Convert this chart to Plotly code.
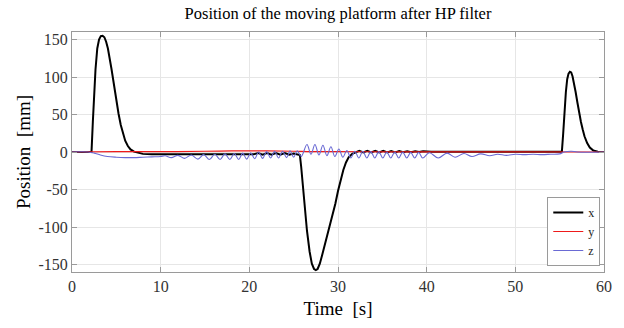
import plotly.graph_objects as go

# ---- data ----
x_t = [0, 2.2, 2.35, 2.5, 2.65, 2.85, 3.05, 3.25, 3.45, 3.65, 3.85, 4.05, 4.25, 4.45, 4.65, 4.85, 5.05, 5.25, 5.5, 5.75, 6.0, 6.3,
       6.6, 7.0, 7.5, 8, 9, 10, 11, 12, 13, 14, 15, 16, 17, 18, 19, 20,
       20.5, 21, 21.5, 22, 22.5, 23, 23.5, 24, 24.5, 25, 25.5, 25.7, 25.85, 26.0, 26.2, 26.5, 26.8, 27.05, 27.3, 27.5, 27.7, 27.95,
       28.2, 28.5, 28.8, 29.1, 29.4, 29.7, 30.0, 30.3, 30.6, 30.9, 31.2, 31.6, 32, 32.4, 32.85, 33.3, 33.75, 34.2, 34.65, 35.1,
       35.55, 36, 36.45, 36.9, 37.35, 37.8, 38.25, 38.7, 39.15, 39.6, 40.5, 42, 45, 50, 55.25, 55.4, 55.55, 55.7, 55.85, 56.0,
       56.15, 56.3, 56.45, 56.6, 56.8, 57.0, 57.2, 57.4, 57.6, 57.8, 58.1, 58.4, 58.8, 59.3, 60]
x_v = [0, 0, 40, 78, 110, 138, 150, 154.5, 155, 153, 147, 138, 126, 111, 96, 80, 65, 51, 36, 24, 15, 8,
       3.5, 0.5, -1.5, -2.5, -3, -3, -3, -2.5, -3, -2.5, -3, -2.5, -3, -2, -2.5, -2,
       -3, -1.5, -3.5, -1.5, -3.5, -1.5, -3.5, -1.5, -3.5, -2, -3, -4, -20, -42, -70, -105, -133, -149, -156, -157.5, -156, -149,
       -138, -124, -110, -99, -86, -69, -52, -37, -24, -14, -7, -2.5, 0, 1.5, -0.5, 1.5, -0.5, 1.5, -0.5, 1.5,
       -0.5, 1.2, -0.5, 1.2, -0.3, 1, -0.3, 1, 0, 1, 0.5, 0.5, 0.5, 0.5, 0.5, 25, 55, 80, 97, 104.5,
       107, 106, 101, 93, 80, 66, 52, 40, 30, 21, 12, 6, 2, 0.5, 0]

y_t = [0, 5, 10, 15, 18, 22, 25, 27, 30, 35, 40, 50, 60]
y_v = [0, 0.5, 0.5, 1, 1.5, 1.5, 1, 0.5, 0.5, 0.3, 0.3, 0.2, 0]

z_t = [0, 1.8, 2.5, 3.2, 4.0, 5.0, 6.0, 7.0, 8.0, 9.0, 10.0, 10.5, 11.2, 11.95, 12.7, 13.45, 14.2, 14.85, 15.5, 16.1, 16.7, 17.25,
       17.8, 18.3, 18.8, 19.25, 19.7, 20.15, 20.6, 21.05, 21.5, 21.95, 22.4, 22.85, 23.3, 23.75, 24.2, 24.6, 25.0, 25.4, 25.85,
       26.5, 26.95, 27.4, 27.85, 28.3, 28.75, 29.2, 29.65, 30.1, 30.55, 31.0, 31.45, 31.9, 32.35, 32.8, 33.25, 33.7, 34.15, 34.6,
       35.05, 35.5, 35.95, 36.4, 36.85, 37.3, 37.75, 38.2, 38.65, 39.1, 39.55, 40.3, 41.3, 42.3, 43.2, 44.2, 45.1, 46.1, 47.1,
       48.0, 49.0, 50.0, 51.0, 52.0, 53.0, 54.0, 55.0, 55.5, 56.3, 57.0, 60]
z_v = [0, 0, -1.5, -4, -6, -7, -7.5, -7.5, -7, -6.5, -6, -5, -7.5, -4.5, -8.5, -4, -9.5, -3.5, -10, -3, -10, -2.5,
       -10, -2, -10, -1.5, -9.5, -1, -9, 0, -8.5, 0.5, -8, 1, -8, 1, -7.5, 1.5, -7, 1.5, -6,
       10, -3, 10, -4, 9, -5, 7, -6, 4, -7, 2, -8, 1, -8, 1, -8, 0.5, -8, 0.5,
       -8, 0, -8, 0, -8, 0, -8, -0.5, -8, -0.5, -8, -1, -8, -1.5, -7, -2, -6, -2.5, -5,
       -3, -4.5, -3, -3.5, -3, -3.5, -3, -2.5, 0, 1, 0, 0]

x_ticks = [0, 10, 20, 30, 40, 50, 60]
y_ticks = [-150, -100, -50, 0, 50, 100, 150]

SERIF = "Liberation Serif"

fig = go.Figure()
fig.add_trace(go.Scatter(x=x_t, y=x_v, name="x", mode="lines",
                         line=dict(color="black", width=2)))
fig.add_trace(go.Scatter(x=y_t, y=y_v, name="y", mode="lines",
                         line=dict(color="#ee1a1a", width=1.2, shape="spline")))
fig.add_trace(go.Scatter(x=z_t, y=z_v, name="z", mode="lines",
                         line=dict(color="#6a6ad4", width=1.1, shape="spline", smoothing=1)))

axis_common = dict(showgrid=True, gridcolor="#e6e6e6", gridwidth=1, zeroline=False,
                   showline=True, linecolor="#9a9a9a", linewidth=1, mirror="ticks",
                   ticks="inside", ticklen=5, tickcolor="#9a9a9a",
                   tickfont=dict(family=SERIF, size=16, color="#333333"))

fig.update_xaxes(range=[0, 60], tickvals=x_ticks, ticktext=[str(v) for v in x_ticks],
                 title=dict(text="Time  [s]", font=dict(family=SERIF, size=19, color="black"), standoff=7),
                 **axis_common)
fig.update_yaxes(range=[-160, 160], tickvals=y_ticks, ticktext=[str(v) for v in y_ticks],
                 title=dict(text="Position  [mm]", font=dict(family=SERIF, size=19, color="black"), standoff=2),
                 **axis_common)

fig.update_layout(
    width=624, height=328,
    margin=dict(l=72, r=20, t=32, b=51),
    paper_bgcolor="white", plot_bgcolor="white",
    title=dict(text="Position of the moving platform after HP filter",
               font=dict(family=SERIF, size=16.5, color="black"),
               x=0.5, xref="paper", y=1 - 13 / 328, yref="container", yanchor="middle"),
    legend=dict(x=0.993, y=0.025, xanchor="right", yanchor="bottom",
                bgcolor="white", bordercolor="#9a9a9a", borderwidth=1,
                font=dict(family=SERIF, size=12, color="#222222"),
                tracegroupgap=0, itemwidth=30),
    showlegend=True,
)

fig.write_html("out.html")
